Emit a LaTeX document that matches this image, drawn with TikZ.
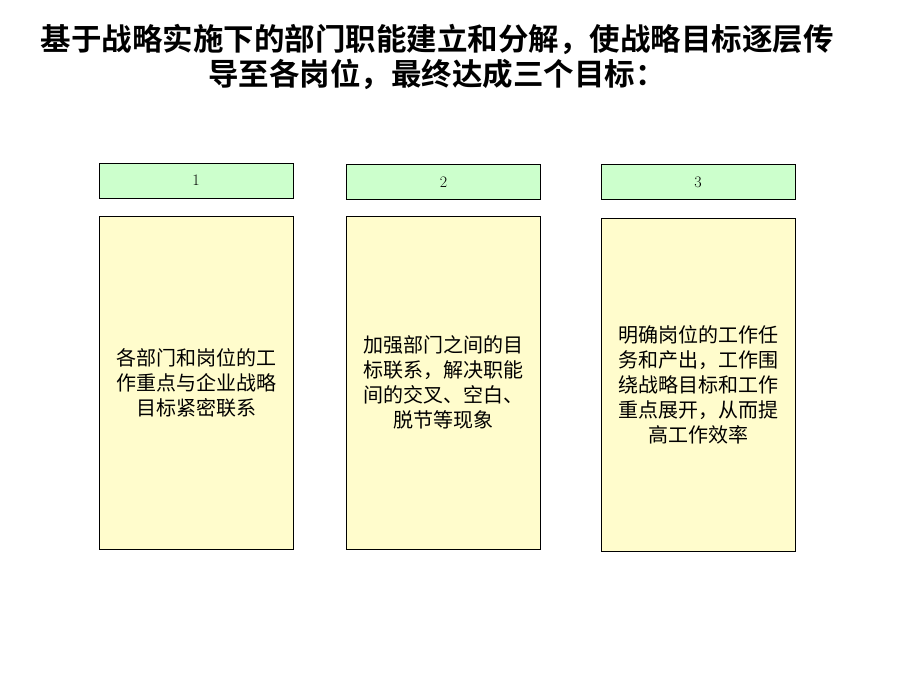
\documentclass[tikz,border=0pt]{standalone}
\usepackage{fontspec}
\newfontfamily\cjk{Noto Sans CJK SC}
\newfontfamily\cjkb{Noto Sans CJK SC Bold}
\begin{document}
\begin{tikzpicture}[x=1pt,y=-1pt,
  hdr/.style={draw=black,fill=green!20,line width=0.8pt,minimum width=194pt,minimum height=35pt,inner sep=0pt,font=\fontsize{16}{18}\selectfont},
  bodybox/.style={draw=black,fill=yellow!20,line width=0.8pt,minimum width=194pt,minimum height=333pt,inner sep=0pt,align=center,font=\cjk\fontsize{20}{25}\selectfont}]
\useasboundingbox (0,0) rectangle (920,690);
\node[font=\cjkb\fontsize{30.5}{35}\selectfont,align=center] (title) at (437,57) {基于战略实施下的部门职能建立和分解，使战略目标逐层传\\导至各岗位，最终达成三个目标：};
\node[hdr] (h1) at (196,180.5) {1};
\node[hdr] (h2) at (443.5,182) {2};
\node[hdr] (h3) at (698,182) {3};
\node[bodybox] (b1) at (196,382.5) {各部门和岗位的工\\作重点与企业战略\\目标紧密联系};
\node[bodybox] (b2) at (443.5,382.5) {加强部门之间的目\\标联系，解决职能\\间的交叉、空白、\\脱节等现象};
\node[bodybox] (b3) at (698,384.5) {明确岗位的工作任\\务和产出，工作围\\绕战略目标和工作\\重点展开，从而提\\高工作效率};
\end{tikzpicture}
\end{document}
